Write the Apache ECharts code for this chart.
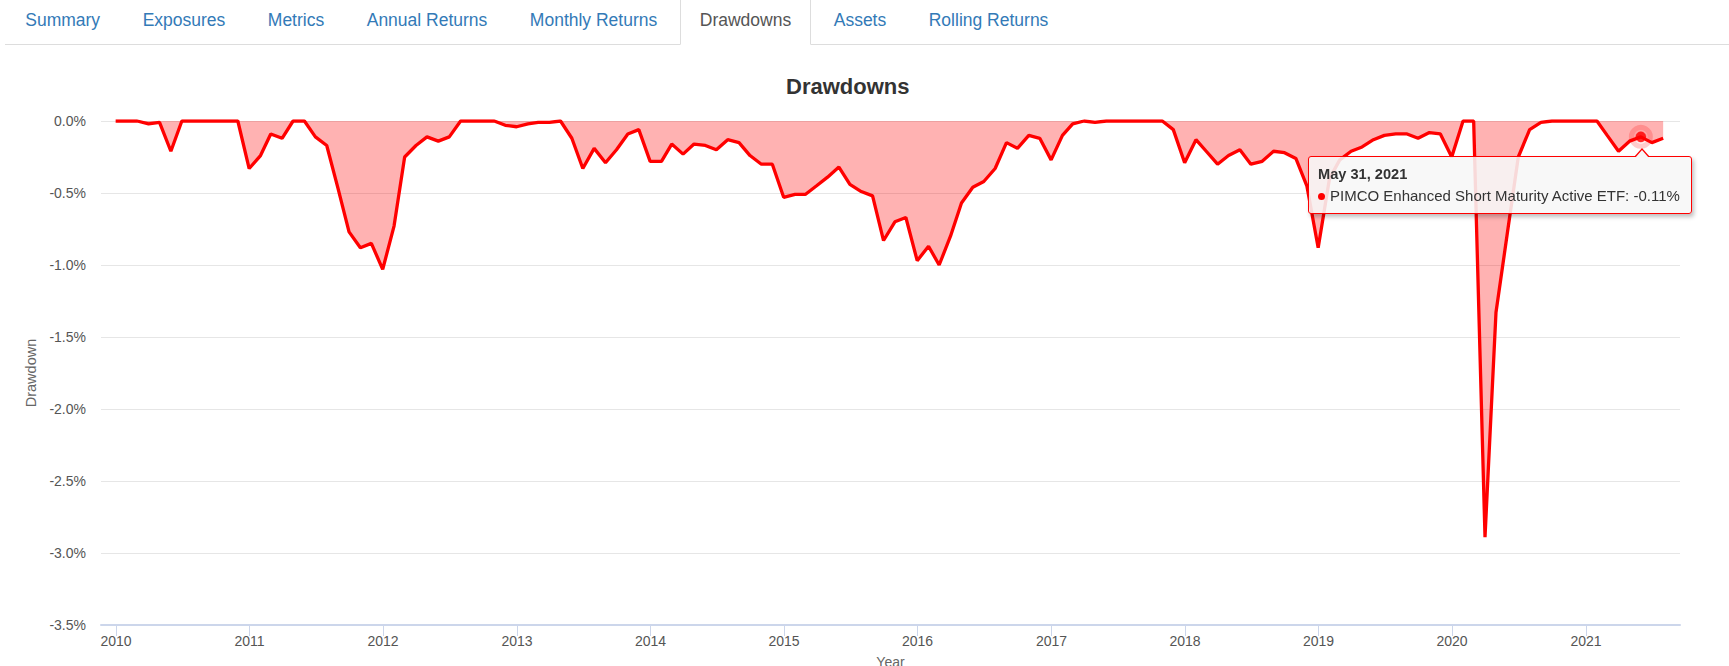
<!DOCTYPE html>
<html>
<head>
<meta charset="utf-8">
<script src="https://cdn.jsdelivr.net/npm/echarts@6/dist/echarts.min.js"></script>
<style>
html,body{margin:0;padding:0;background:#fff;width:1729px;height:666px;overflow:hidden;font-family:"Liberation Sans",Arial,Helvetica,sans-serif;}
#nav{position:absolute;left:5px;top:-5px;right:0;height:50px;border-bottom:1px solid #ddd;margin:0;padding:0;list-style:none;display:flex;z-index:2;box-sizing:border-box;}
#nav li{margin-right:2px;margin-bottom:-1px;}
#nav li a{display:block;padding:0 19.25px;height:50px;line-height:48px;font-size:17.5px;color:#337ab7;text-decoration:none;border:1px solid transparent;border-radius:4px 4px 0 0;box-sizing:border-box;white-space:nowrap;}
#nav li.active a{color:#555;background:#fff;border-color:#ddd;border-bottom-color:transparent;}
#chart{position:absolute;left:0;top:0;width:1729px;height:666px;}
</style>
</head>
<body>
<div id="chart"></div>
<ul id="nav"></ul>
<script>
// ---------- data ----------
const tabs = ['Summary','Exposures','Metrics','Annual Returns','Monthly Returns','Drawdowns','Assets','Rolling Returns'];
const activeTab = 'Drawdowns';
const chartTitle = 'Drawdowns';
const seriesName = 'PIMCO Enhanced Short Maturity Active ETF';
const yAxisName = 'Drawdown';
const xAxisName = 'Year';
const highlightDate = '2021-05-31';

const months = [
  '2009-12-31',
  '2010-01-31','2010-02-28','2010-03-31','2010-04-30','2010-05-31','2010-06-30','2010-07-31','2010-08-31','2010-09-30','2010-10-31','2010-11-30','2010-12-31',
  '2011-01-31','2011-02-28','2011-03-31','2011-04-30','2011-05-31','2011-06-30','2011-07-31','2011-08-31','2011-09-30','2011-10-31','2011-11-30','2011-12-31',
  '2012-01-31','2012-02-29','2012-03-31','2012-04-30','2012-05-31','2012-06-30','2012-07-31','2012-08-31','2012-09-30','2012-10-31','2012-11-30','2012-12-31',
  '2013-01-31','2013-02-28','2013-03-31','2013-04-30','2013-05-31','2013-06-30','2013-07-31','2013-08-31','2013-09-30','2013-10-31','2013-11-30','2013-12-31',
  '2014-01-31','2014-02-28','2014-03-31','2014-04-30','2014-05-31','2014-06-30','2014-07-31','2014-08-31','2014-09-30','2014-10-31','2014-11-30','2014-12-31',
  '2015-01-31','2015-02-28','2015-03-31','2015-04-30','2015-05-31','2015-06-30','2015-07-31','2015-08-31','2015-09-30','2015-10-31','2015-11-30','2015-12-31',
  '2016-01-31','2016-02-29','2016-03-31','2016-04-30','2016-05-31','2016-06-30','2016-07-31','2016-08-31','2016-09-30','2016-10-31','2016-11-30','2016-12-31',
  '2017-01-31','2017-02-28','2017-03-31','2017-04-30','2017-05-31','2017-06-30','2017-07-31','2017-08-31','2017-09-30','2017-10-31','2017-11-30','2017-12-31',
  '2018-01-31','2018-02-28','2018-03-31','2018-04-30','2018-05-31','2018-06-30','2018-07-31','2018-08-31','2018-09-30','2018-10-31','2018-11-30','2018-12-31',
  '2019-01-31','2019-02-28','2019-03-31','2019-04-30','2019-05-31','2019-06-30','2019-07-31','2019-08-31','2019-09-30','2019-10-31','2019-11-30','2019-12-31',
  '2020-01-31','2020-02-29','2020-03-31','2020-04-30','2020-05-31','2020-06-30','2020-07-31','2020-08-31','2020-09-30','2020-10-31','2020-11-30','2020-12-31',
  '2021-01-31','2021-02-28','2021-03-31','2021-04-30','2021-05-31','2021-06-30','2021-07-31'
];

// drawdown in percent, one value per month above
const drawdown = [
  0,
  0, 0, -0.02, -0.01, -0.21, 0, 0, 0, 0, 0, 0, -0.33,
  -0.24, -0.09, -0.12, 0, 0, -0.11, -0.17, -0.47, -0.77, -0.88, -0.85, -1.03,
  -0.73, -0.25, -0.17, -0.11, -0.14, -0.11, 0, 0, 0, 0, -0.03, -0.04,
  -0.02, -0.01, -0.01, 0, -0.12, -0.33, -0.19, -0.29, -0.20, -0.09, -0.06, -0.28,
  -0.28, -0.16, -0.23, -0.16, -0.17, -0.20, -0.13, -0.15, -0.24, -0.30, -0.30, -0.53,
  -0.51, -0.51, -0.45, -0.39, -0.32, -0.44, -0.49, -0.52, -0.83, -0.70, -0.67, -0.97,
  -0.87, -1.00, -0.80, -0.57, -0.46, -0.42, -0.33, -0.15, -0.19, -0.10, -0.12, -0.27,
  -0.10, -0.02, 0, -0.01, 0, 0, 0, 0, 0, 0, -0.06, -0.29,
  -0.13, -0.21, -0.30, -0.24, -0.20, -0.30, -0.28, -0.21, -0.22, -0.26, -0.45, -0.88,
  -0.40, -0.27, -0.21, -0.18, -0.13, -0.10, -0.09, -0.09, -0.12, -0.08, -0.09, -0.25,
  0, 0, -2.89, -1.33, -0.78, -0.25, -0.06, -0.01, 0, 0, 0, 0,
  0, -0.10, -0.21, -0.14, -0.11, -0.15, -0.12
];

const axisStart = '2009-11-21';
const axisEnd = '2021-09-15';
const yMin = -3.5, yMax = 0, yStep = 0.5;
const monthShort = ['Jan','Feb','Mar','Apr','May','Jun','Jul','Aug','Sep','Oct','Nov','Dec'];

// ---------- tabs ----------
const nav = document.getElementById('nav');
tabs.forEach(t => {
  const li = document.createElement('li');
  if (t === activeTab) li.className = 'active';
  const a = document.createElement('a');
  a.textContent = t; a.href = '#';
  li.appendChild(a); nav.appendChild(li);
});

// ---------- chart ----------
function ts(s){ const p = s.split('-').map(Number); return Date.UTC(p[0], p[1]-1, p[2]); }
const lineData = months.map((m, i) => [ts(m), drawdown[i]]);
const hi = months.indexOf(highlightDate);
const hiPoint = [[ts(months[hi]), drawdown[hi]]];
const FONT = '"Liberation Sans", Arial, Helvetica, sans-serif';
const CSSFONT = FONT.replace(/"/g, "'");
const YEAR = 365 * 24 * 3600 * 1000;

const chart = echarts.init(document.getElementById('chart'), null, {renderer: 'svg'});
chart.setOption({
  useUTC: true,
  animation: false,
  backgroundColor: '#fff',
  textStyle: {fontFamily: FONT},
  title: {
    text: chartTitle,
    left: 786,
    top: 75,
    padding: 0,
    textStyle: {fontFamily: FONT, fontSize: 22, fontWeight: 'bold', color: '#333'}
  },
  grid: {left: 101, right: 49, top: 121, bottom: 41, containLabel: false, outerBoundsMode: 'none'},
  xAxis: {
    type: 'time',
    min: ts(axisStart),
    max: ts(axisEnd),
    splitNumber: 12,
    minInterval: YEAR,
    maxInterval: YEAR + 24 * 3600 * 1000,
    name: xAxisName,
    nameLocation: 'middle',
    nameGap: 30,
    nameTextStyle: {fontFamily: FONT, fontSize: 14, color: '#666'},
    axisLine: {show: true, onZero: false, lineStyle: {color: '#ccd6eb', width: 2}},
    axisTick: {show: true, length: 11, lineStyle: {color: '#ccd6eb', width: 1}},
    splitLine: {show: false},
    axisLabel: {
      formatter: '{yyyy}',
      fontFamily: FONT, fontSize: 14, color: '#555', margin: 9,
      showMinLabel: false, showMaxLabel: false
    }
  },
  yAxis: {
    type: 'value',
    min: yMin, max: yMax, interval: yStep,
    name: yAxisName,
    nameLocation: 'middle',
    nameRotate: 90,
    nameGap: 63,
    nameTextStyle: {fontFamily: FONT, fontSize: 14.5, color: '#666'},
    axisLine: {show: false},
    axisTick: {show: false},
    splitLine: {show: true, lineStyle: {color: '#e6e6e6', width: 1}},
    axisLabel: {
      formatter: v => v.toFixed(1) + '%',
      fontFamily: FONT, fontSize: 14, color: '#555', margin: 15
    }
  },
  tooltip: {
    trigger: 'item',
    alwaysShowContent: true,
    transitionDuration: 0,
    showDelay: 0,
    backgroundColor: 'rgba(247,247,247,0.88)',
    borderColor: '#ff0000',
    borderWidth: 1,
    borderRadius: 3,
    padding: [7, 11, 7, 9],
    extraCssText: 'box-shadow:2px 3px 4px rgba(0,0,0,0.25);line-height:21px;',
    position: pt => [pt[0] - 333, pt[1] + 19],
    formatter: p => {
      const d = new Date(p.value[0]);
      const head = monthShort[d.getUTCMonth()] + ' ' + d.getUTCDate() + ', ' + d.getUTCFullYear();
      return '<div style="position:absolute;left:325px;top:-9px;width:0;height:0;border-left:8px solid transparent;border-right:8px solid transparent;border-bottom:9px solid #ff0000;"></div>' +
        '<div style="position:absolute;left:326px;top:-7px;width:0;height:0;border-left:7px solid transparent;border-right:7px solid transparent;border-bottom:8px solid #f7f7f7;"></div>' +
        '<div style="font:bold 14.6px ' + CSSFONT + ';color:#333;line-height:21px;">' + head + '</div>' +
        '<div style="font:15px ' + CSSFONT + ';color:#333;white-space:nowrap;line-height:21px;">' +
        '<span style="display:inline-block;width:7px;height:7px;border-radius:50%;background:#ff0000;margin-right:5px;vertical-align:1px;"></span>' +
        seriesName + ': ' + p.value[1].toFixed(2) + '%</div>';
    }
  },
  series: [
    {
      name: seriesName,
      type: 'line',
      data: lineData,
      showSymbol: false,
      silent: true,
      lineStyle: {color: '#ff0000', width: 3.3},
      areaStyle: {color: 'rgba(255,0,0,0.3)', opacity: 1},
      emphasis: {disabled: true},
      tooltip: {show: false}
    },
    {
      name: 'halo',
      type: 'scatter',
      data: hiPoint,
      symbolSize: 24,
      silent: true,
      itemStyle: {color: 'rgba(255,0,0,0.25)'},
      tooltip: {show: false}
    },
    {
      name: seriesName,
      type: 'scatter',
      data: hiPoint,
      symbolSize: 12,
      itemStyle: {color: '#ff0000', borderColor: '#ffffff', borderWidth: 1.5},
      emphasis: {scale: false}
    }
  ]
});
chart.dispatchAction({type: 'showTip', seriesIndex: 2, dataIndex: 0});
</script>
</body>
</html>
